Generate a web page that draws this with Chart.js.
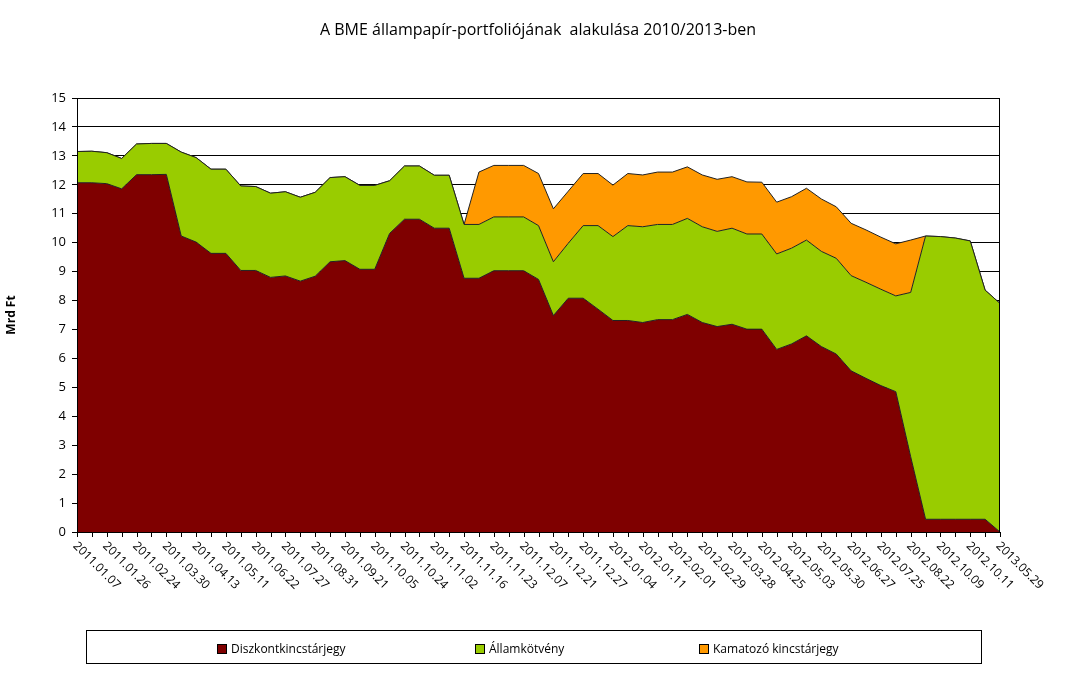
<!DOCTYPE html>
<html>
<head>
<meta charset="utf-8">
<script src="https://cdn.jsdelivr.net/npm/chart.js@4/dist/chart.umd.min.js"></script>
<style>
  body { margin: 0; background: #fff; font-family: 'Open Sans', sans-serif; }
  #wrap { position: relative; width: 1073px; height: 694px; }
  #title { position: absolute; top: 18px; left: 0; width: 1076px; text-align: center; font-size: 16px; color: #000; }
  #legend { position: absolute; left: 86px; top: 630px; width: 896px; height: 34px; border: 1px solid #000; box-sizing: border-box; font-size: 12px; }
  #legend span { position: absolute; top: 9px; white-space: nowrap; }
  #legend i { display: inline-block; width: 8px; height: 8px; margin-right: 4px; border: 1px solid #000; vertical-align: -1px; }
</style>
</head>
<body>
<div id="wrap">
  <div id="title">A BME állampapír-portfoliójának&nbsp; alakulása 2010/2013-ben</div>
  <canvas id="c" width="1073" height="694"></canvas>
  <div id="legend"></div>
</div>
<script>
'use strict';

// 63 snapshots; only every other one carries a date label on the axis.
const dateLabels = [
  '2011.01.07', '2011.01.26', '2011.02.24', '2011.03.30', '2011.04.13', '2011.05.11',
  '2011.06.22', '2011.07.27', '2011.08.31', '2011.09.21', '2011.10.05', '2011.10.24',
  '2011.11.02', '2011.11.16', '2011.11.23', '2011.12.07', '2011.12.21', '2011.12.27',
  '2012.01.04', '2012.01.11', '2012.02.01', '2012.02.29', '2012.03.28', '2012.04.25',
  '2012.05.03', '2012.05.30', '2012.06.27', '2012.07.25', '2012.08.22', '2012.10.09',
  '2012.10.11', '2013.05.29'
];
const categories = [];
dateLabels.forEach(function (d, i) {
  categories.push(d);
  if (i < dateLabels.length - 1) categories.push('');
});

// Mrd Ft
const diszkont = [
  12.07, 12.07, 12.04, 11.86, 12.35, 12.35, 12.36, 10.23, 10.02, 9.63, 9.63,
  9.04, 9.04, 8.80, 8.85, 8.67, 8.84, 9.34, 9.38, 9.08, 9.08, 10.32,
  10.81, 10.81, 10.50, 10.50, 8.77, 8.77, 9.03, 9.03, 9.03, 8.73, 7.48,
  8.08, 8.08, 7.70, 7.31, 7.31, 7.24, 7.34, 7.34, 7.52, 7.24,
  7.10, 7.18, 7.01, 7.01, 6.31, 6.50, 6.78, 6.41, 6.15, 5.57, 5.31,
  5.06, 4.85, 2.60, 0.44, 0.44, 0.44, 0.44, 0.44, 0
];
const allamkotveny = [
  1.08, 1.09, 1.07, 1.05, 1.06, 1.08, 1.07, 2.90, 2.92, 2.91, 2.91,
  2.92, 2.90, 2.91, 2.91, 2.90, 2.90, 2.91, 2.90, 2.90, 2.90, 1.82,
  1.84, 1.84, 1.83, 1.83, 1.86, 1.86, 1.86, 1.86, 1.86, 1.86, 1.86,
  1.90, 2.51, 2.89, 2.90, 3.28, 3.31, 3.29, 3.29, 3.32, 3.31,
  3.29, 3.32, 3.29, 3.29, 3.30, 3.31, 3.31, 3.29, 3.31, 3.29, 3.32,
  3.33, 3.31, 5.68, 9.79, 9.77, 9.72, 9.62, 7.92, 7.90
];
const kamatozo = [
  0, 0, 0, 0, 0, 0, 0, 0, 0, 0, 0,
  0, 0, 0, 0, 0, 0, 0, 0, 0, 0, 0,
  0, 0, 0, 0, 0, 1.81, 1.78, 1.78, 1.78, 1.80, 1.83,
  1.80, 1.80, 1.80, 1.78, 1.80, 1.79, 1.81, 1.81, 1.78, 1.79,
  1.80, 1.78, 1.80, 1.79, 1.79, 1.78, 1.79, 1.81, 1.78, 1.81, 1.81,
  1.80, 1.80, 1.81, 0, 0, 0, 0, 0, 0
];
const yTicks = [0, 1, 2, 3, 4, 5, 6, 7, 8, 9, 10, 11, 12, 13, 14, 15];

const series = [
  { label: 'Diszkontkincstárjegy', data: diszkont, color: '#7f0000', legendX: 130 },
  { label: 'Államkötvény', data: allamkotveny, color: '#99cc00', legendX: 388 },
  { label: 'Kamatozó kincstárjegy', data: kamatozo, color: '#ff9900', legendX: 612 },
];

const legendEl = document.getElementById('legend');
series.forEach(function (s) {
  const sp = document.createElement('span');
  sp.style.left = s.legendX + 'px';
  sp.innerHTML = '<i style="background:' + s.color + '"></i>' + s.label;
  legendEl.appendChild(sp);
});

// rotated date labels (text runs down-right from the tick) + tick marks + frame
const axisDecor = {
  id: 'axisDecor',
  afterDraw(chart) {
    const ctx = chart.ctx, x = chart.scales.x, a = chart.chartArea;
    ctx.save();
    ctx.strokeStyle = '#000';
    ctx.lineWidth = 1;
    ctx.strokeRect(a.left + 0.5, a.top + 0.5, a.right - a.left - 1, a.bottom - a.top);
    ctx.beginPath();
    categories.forEach(function (_, i) {
      const px = Math.round(x.getPixelForValue(i)) + 0.5;
      ctx.moveTo(px, a.bottom);
      ctx.lineTo(px, a.bottom + 5);
    });
    ctx.stroke();
    ctx.fillStyle = '#000';
    ctx.font = '12px "Open Sans"';
    ctx.textAlign = 'left';
    ctx.textBaseline = 'middle';
    categories.forEach(function (lab, i) {
      if (!lab) return;
      const px = x.getPixelForValue(i);
      ctx.save();
      ctx.translate(px - 2, a.bottom + 12);
      ctx.rotate(Math.PI / 4);
      ctx.fillText(lab, 0, 0);
      ctx.restore();
    });
    ctx.restore();
  }
};

new Chart(document.getElementById('c').getContext('2d'), {
  type: 'line',
  data: {
    labels: categories,
    datasets: series.map(function (s, i) {
      return {
        label: s.label,
        data: s.data,
        backgroundColor: s.color,
        borderColor: '#222',
        borderWidth: 1,
        fill: i === 0 ? 'origin' : '-1',
        pointRadius: 0,
        tension: 0,
      };
    }),
  },
  options: {
    responsive: false,
    animation: false,
    layout: { padding: { top: 98, right: 73, bottom: 162, left: 0 } },
    plugins: { legend: { display: false }, tooltip: { enabled: false } },
    scales: {
      x: { display: false, offset: false },
      y: {
        stacked: true,
        min: 0, max: 15,
        afterFit: function (s) { s.width = 77; },
        afterBuildTicks: function (s) { s.ticks = yTicks.map(function (v) { return { value: v }; }); },
        ticks: { color: '#000', font: { size: 13, family: 'Open Sans' }, padding: 6 },
        grid: { color: '#000', lineWidth: 1, tickLength: 5 },
        border: { color: '#000' },
        title: { display: true, text: 'Mrd Ft', color: '#000', font: { size: 12, weight: 'bold', family: 'Open Sans' }, padding: 4 },
      },
    },
  },
  plugins: [axisDecor],
});
</script>
</body>
</html>
